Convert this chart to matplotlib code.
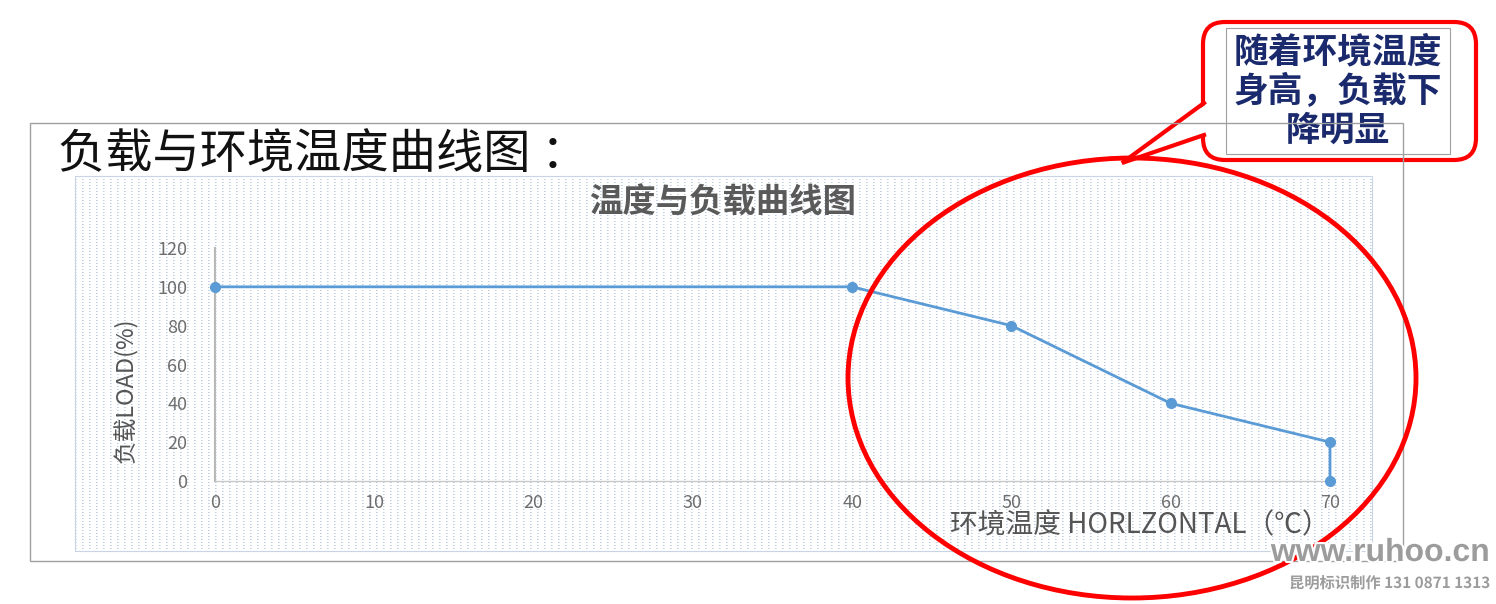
import numpy as np
import matplotlib.pyplot as plt
import matplotlib.patheffects as pe
from matplotlib.patches import Rectangle, Ellipse, FancyBboxPatch, Polygon
from matplotlib.transforms import Affine2D

plt.rcParams['font.family'] = ['Noto Sans CJK SC', 'DejaVu Sans']

# data
temps = [0, 40, 50, 60, 70, 70]
load = [100, 100, 80, 40, 20, 0]
x_ticks = [0, 10, 20, 30, 40, 50, 60, 70]
y_ticks = [0, 20, 40, 60, 80, 100, 120]

W, H = 1496, 604
fig = plt.figure(figsize=(W / 100, H / 100), dpi=100)
fig.patch.set_facecolor('white')

# pixel coords (top-left origin) -> figure
px = Affine2D().scale(1 / W, -1 / H).translate(0, 1) + fig.transFigure

# dotted chart panel texture
pw, ph = 1297, 375
tex = np.ones((ph, pw, 3))
dot = np.array([0.74, 0.80, 0.89])
tex[::3, ::7] = dot
tex[::3, 1::7] = 0.6 * dot + 0.4
fig.figimage(tex, xo=75, yo=H - 551, zorder=1)
fig.add_artist(Rectangle((75, 176), pw, ph, transform=px, fill=False,
                         edgecolor='#c8d4e4', lw=0.8, zorder=2))

# page title
fig.text(58 / W, 1 - 155 / H, '负载与环境温度曲线图 ：', fontsize=34, color='#111111',
         va='center', ha='left', zorder=5)

# chart
ax = fig.add_axes([215 / W, 1 - 481 / H, (1330 - 215) / W, (481 - 248) / H])
ax.set_zorder(5)
ax.patch.set_alpha(0)
ax.plot(temps, load, color='#5b9bd5', lw=2, marker='o', markersize=7,
        markerfacecolor='#5b9bd5', markeredgecolor='#5b9bd5', clip_on=False, zorder=3)
ax.set_xlim(0, 70)
ax.set_ylim(0, 120)
ax.set_xticks(x_ticks)
ax.set_yticks(y_ticks)
ax.tick_params(length=0, colors='#6e6e6e', labelsize=13)
ax.tick_params(axis='x', pad=9)
ax.tick_params(axis='y', pad=20)
for s in ['top', 'right']:
    ax.spines[s].set_visible(False)
ax.spines['left'].set_color('#b8b8b8')
ax.spines['bottom'].set_color('#c8c8c8')
ax.spines['left'].set_linewidth(1.5)
ax.spines['bottom'].set_linewidth(1)

fig.text(723 / W, 1 - 203 / H, '温度与负载曲线图', fontsize=24, color='#5a5a5a',
         fontweight='bold', ha='center', va='center', zorder=6)
fig.text(126 / W, 1 - 390 / H, '负载LOAD(%)', fontsize=17, color='#555555',
         rotation=90, ha='center', va='center', zorder=6)
fig.text(1140 / W, 1 - 525 / H, '环境温度 HORLZONTAL（℃）', fontsize=20, color='#555555',
         ha='center', va='center', zorder=6)

# red highlight ellipse
fig.add_artist(Ellipse((1132, 378), 568, 440, transform=px, fill=False,
                       edgecolor='#ff0000', lw=3.5, zorder=20))

# callout box
fig.add_artist(FancyBboxPatch((1213, 32), 253, 118, boxstyle='round,pad=10,rounding_size=22',
                              transform=px, facecolor='white', edgecolor='#ff0000',
                              lw=3, zorder=10))
fig.add_artist(Polygon([(1208, 103), (1122, 163), (1208, 135)], transform=px,
                       facecolor='white', edgecolor='none', zorder=11))
fig.add_artist(plt.Line2D([1204, 1122, 1204], [103, 163, 135], transform=px,
                          color='#ff0000', lw=3, zorder=12, solid_joinstyle='miter'))
fig.add_artist(Rectangle((1226, 28), 224, 126, transform=px, fill=False,
                         edgecolor='#a0a0a0', lw=0.8, zorder=13))
fig.text(1338 / W, 1 - 91 / H, '随着环境温度\n身高，负载下\n降明显', fontsize=25,
         color='#1a2a6c', fontweight='bold', ha='center', va='center',
         linespacing=1.15, zorder=14)

# outer frame
fig.add_artist(Rectangle((30, 123), 1373, 438, transform=px, fill=False,
                         edgecolor='#a0a0a0', lw=1, zorder=15))

# watermark
outline = [pe.withStroke(linewidth=3, foreground='white')]
fig.text(1490 / W, 1 - 553 / H, 'www.ruhoo.cn', fontsize=23, color='#9c9c9c',
         fontweight='bold', ha='right', va='center', zorder=25,
         family=['Liberation Sans', 'DejaVu Sans'], path_effects=outline)
fig.text(1490 / W, 1 - 583 / H, '昆明标识制作 131 0871 1313', fontsize=11, color='#9c9c9c',
         fontweight='bold', ha='right', va='center', zorder=25, path_effects=outline)

fig.savefig('out.png', dpi=100)
